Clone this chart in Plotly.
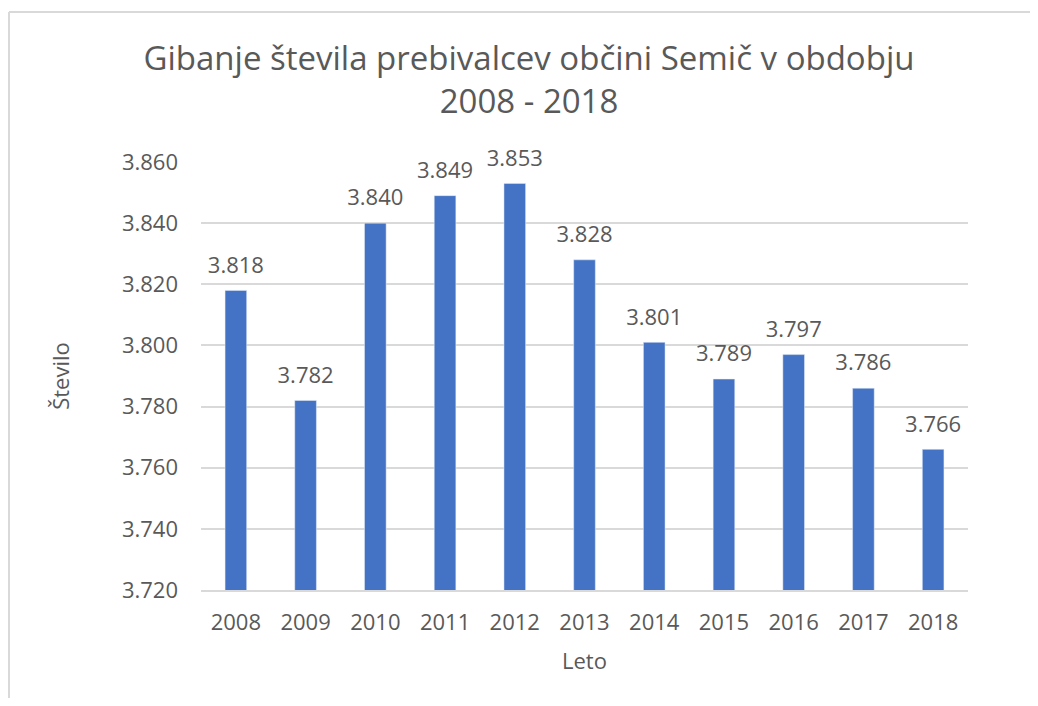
import plotly.graph_objects as go

years = ["2008", "2009", "2010", "2011", "2012", "2013", "2014", "2015", "2016", "2017", "2018"]
population = [3818, 3782, 3840, 3849, 3853, 3828, 3801, 3789, 3797, 3786, 3766]
title_text = "Gibanje števila prebivalcev občini Semič v obdobju<br>2008 - 2018"
x_title = "Leto"
y_title = "Število"

# page has an 8px body margin, so the figure is drawn 16px smaller
W, H = 1022, 690
L, T = 193, 154
R = W - (968 - 8)
B = H - (590 - 8)
pw, ph = W - L - R, H - T - B

text_color = "#595959"
grid_color = "#D9D9D9"
bar_color = "#4472C4"
font_family = "Open Sans, Noto Sans, sans-serif"

fig = go.Figure()
fig.add_trace(go.Bar(
    x=years, y=population,
    marker_color=bar_color,
    width=0.31,
    hoverinfo="x+y",
))
fig.add_trace(go.Scatter(
    x=years, y=population,
    mode="markers+text",
    marker=dict(size=18, opacity=0),
    text=population,
    texttemplate="%{y:,.0f}",
    textposition="top center",
    textfont=dict(size=22, color=text_color, family=font_family),
    cliponaxis=False,
    hoverinfo="skip",
))

fig.update_layout(
    width=W, height=H,
    margin=dict(l=L, r=R, t=T, b=B),
    paper_bgcolor="white", plot_bgcolor="white",
    separators=",.",
    showlegend=False,
    font=dict(family=font_family, color=text_color),
    title=dict(
        text=title_text,
        x=521 / W, xanchor="center",
        y=1 - 62 / H, yanchor="top", yref="container",
        font=dict(size=33, color=text_color, family=font_family),
    ),
    xaxis=dict(
        type="category",
        range=[-0.5, len(years) - 0.5],
        showgrid=False,
        showline=True, linecolor=grid_color, linewidth=2,
        ticks="", ticklabelstandoff=12,
        tickfont=dict(size=22, color=text_color),
        title=dict(text=x_title, font=dict(size=22, color=text_color), standoff=18),
    ),
    yaxis=dict(
        range=[3720, 3860], dtick=20,
        tickformat=",.0f",
        showgrid=True, gridcolor=grid_color, gridwidth=2,
        zeroline=False, showline=False,
        ticks="", ticklabelstandoff=22,
        tickfont=dict(size=22, color=text_color),
        title=dict(text=y_title, font=dict(size=22, color=text_color), standoff=46),
    ),
    bargap=0.69,
)

# chart-area border (top and left edges visible in the reference)
bx = (1 - L) / pw
by = 1 + (T - 4) / ph
fig.add_shape(type="line", xref="paper", yref="paper", x0=bx, x1=(W + 10 - L) / pw, y0=by, y1=by,
              line=dict(color=grid_color, width=2))
fig.add_shape(type="line", xref="paper", yref="paper", x0=bx, x1=bx, y0=by, y1=-(B + 10) / ph,
              line=dict(color=grid_color, width=2))

fig.write_html("out.html")
